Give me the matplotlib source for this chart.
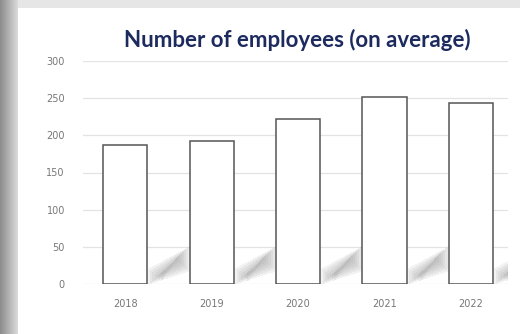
import numpy as np
import matplotlib.pyplot as plt
from matplotlib.patches import Rectangle

annees = ['2018', '2019', '2020', '2021', '2022']
employes = [187, 192, 222, 251, 244]
graduations = [0, 50, 100, 150, 200, 250, 300]

W, H = 520, 334
fig = plt.figure(figsize=(W / 100, H / 100), dpi=100)
fig.patch.set_facecolor('white')

# fond gris a gauche et en haut (capture d'ecran)
fond = fig.add_axes([0, 0, 1, 1], zorder=-1)
fond.set_xlim(0, W)
fond.set_ylim(H, 0)
fond.axis('off')
degrade = np.linspace(0.55, 0.85, 18)[None, :]
fond.imshow(np.repeat(degrade, 10, axis=0), cmap='gray', vmin=0, vmax=1,
            extent=[0, 18, H, 0], aspect='auto')
fond.add_patch(Rectangle((18, 0), W - 18, 8, color='#e6e6e6', lw=0))

ax = fig.add_axes([83 / W, 1 - 284 / H, (508 - 83) / W, (284 - 61) / H])
x = np.arange(len(annees))
ax.bar(x, employes, width=0.51, color='white', edgecolor='#555555', linewidth=1.1, zorder=3)

# ombres floues entre les barres (couches superposees)
for i in range(len(annees)):
    g, d = i + 0.27, i + 0.75
    for k in range(7):
        r = 0.025 * k
        e = 2.5 * k
        ax.fill([g + r, d - r, d - r, g + r],
                [e, 18 + e, 50 - e, 20 - e],
                color='#8c8c8c', alpha=0.11, lw=0, zorder=2, antialiased=False)

ax.set_ylim(0, 300)
ax.set_xlim(-0.49, 4.43)
ax.set_yticks(graduations)
ax.set_xticks(x)
ax.set_xticklabels(annees)
ax.grid(axis='y', color='#e3e3e3', linewidth=0.9, zorder=0)
for s in ax.spines.values():
    s.set_visible(False)
ax.tick_params(length=0, labelsize=7, labelcolor='#777777')
ax.tick_params(axis='y', pad=13)
ax.tick_params(axis='x', pad=11)

fig.text(297 / W, 1 - 40 / H, 'Number of employees (on average)', ha='center', va='center',
         fontsize=16, fontweight='bold', color='#1c2a5e', family='Lato')

fig.savefig('out.png', dpi=100)
